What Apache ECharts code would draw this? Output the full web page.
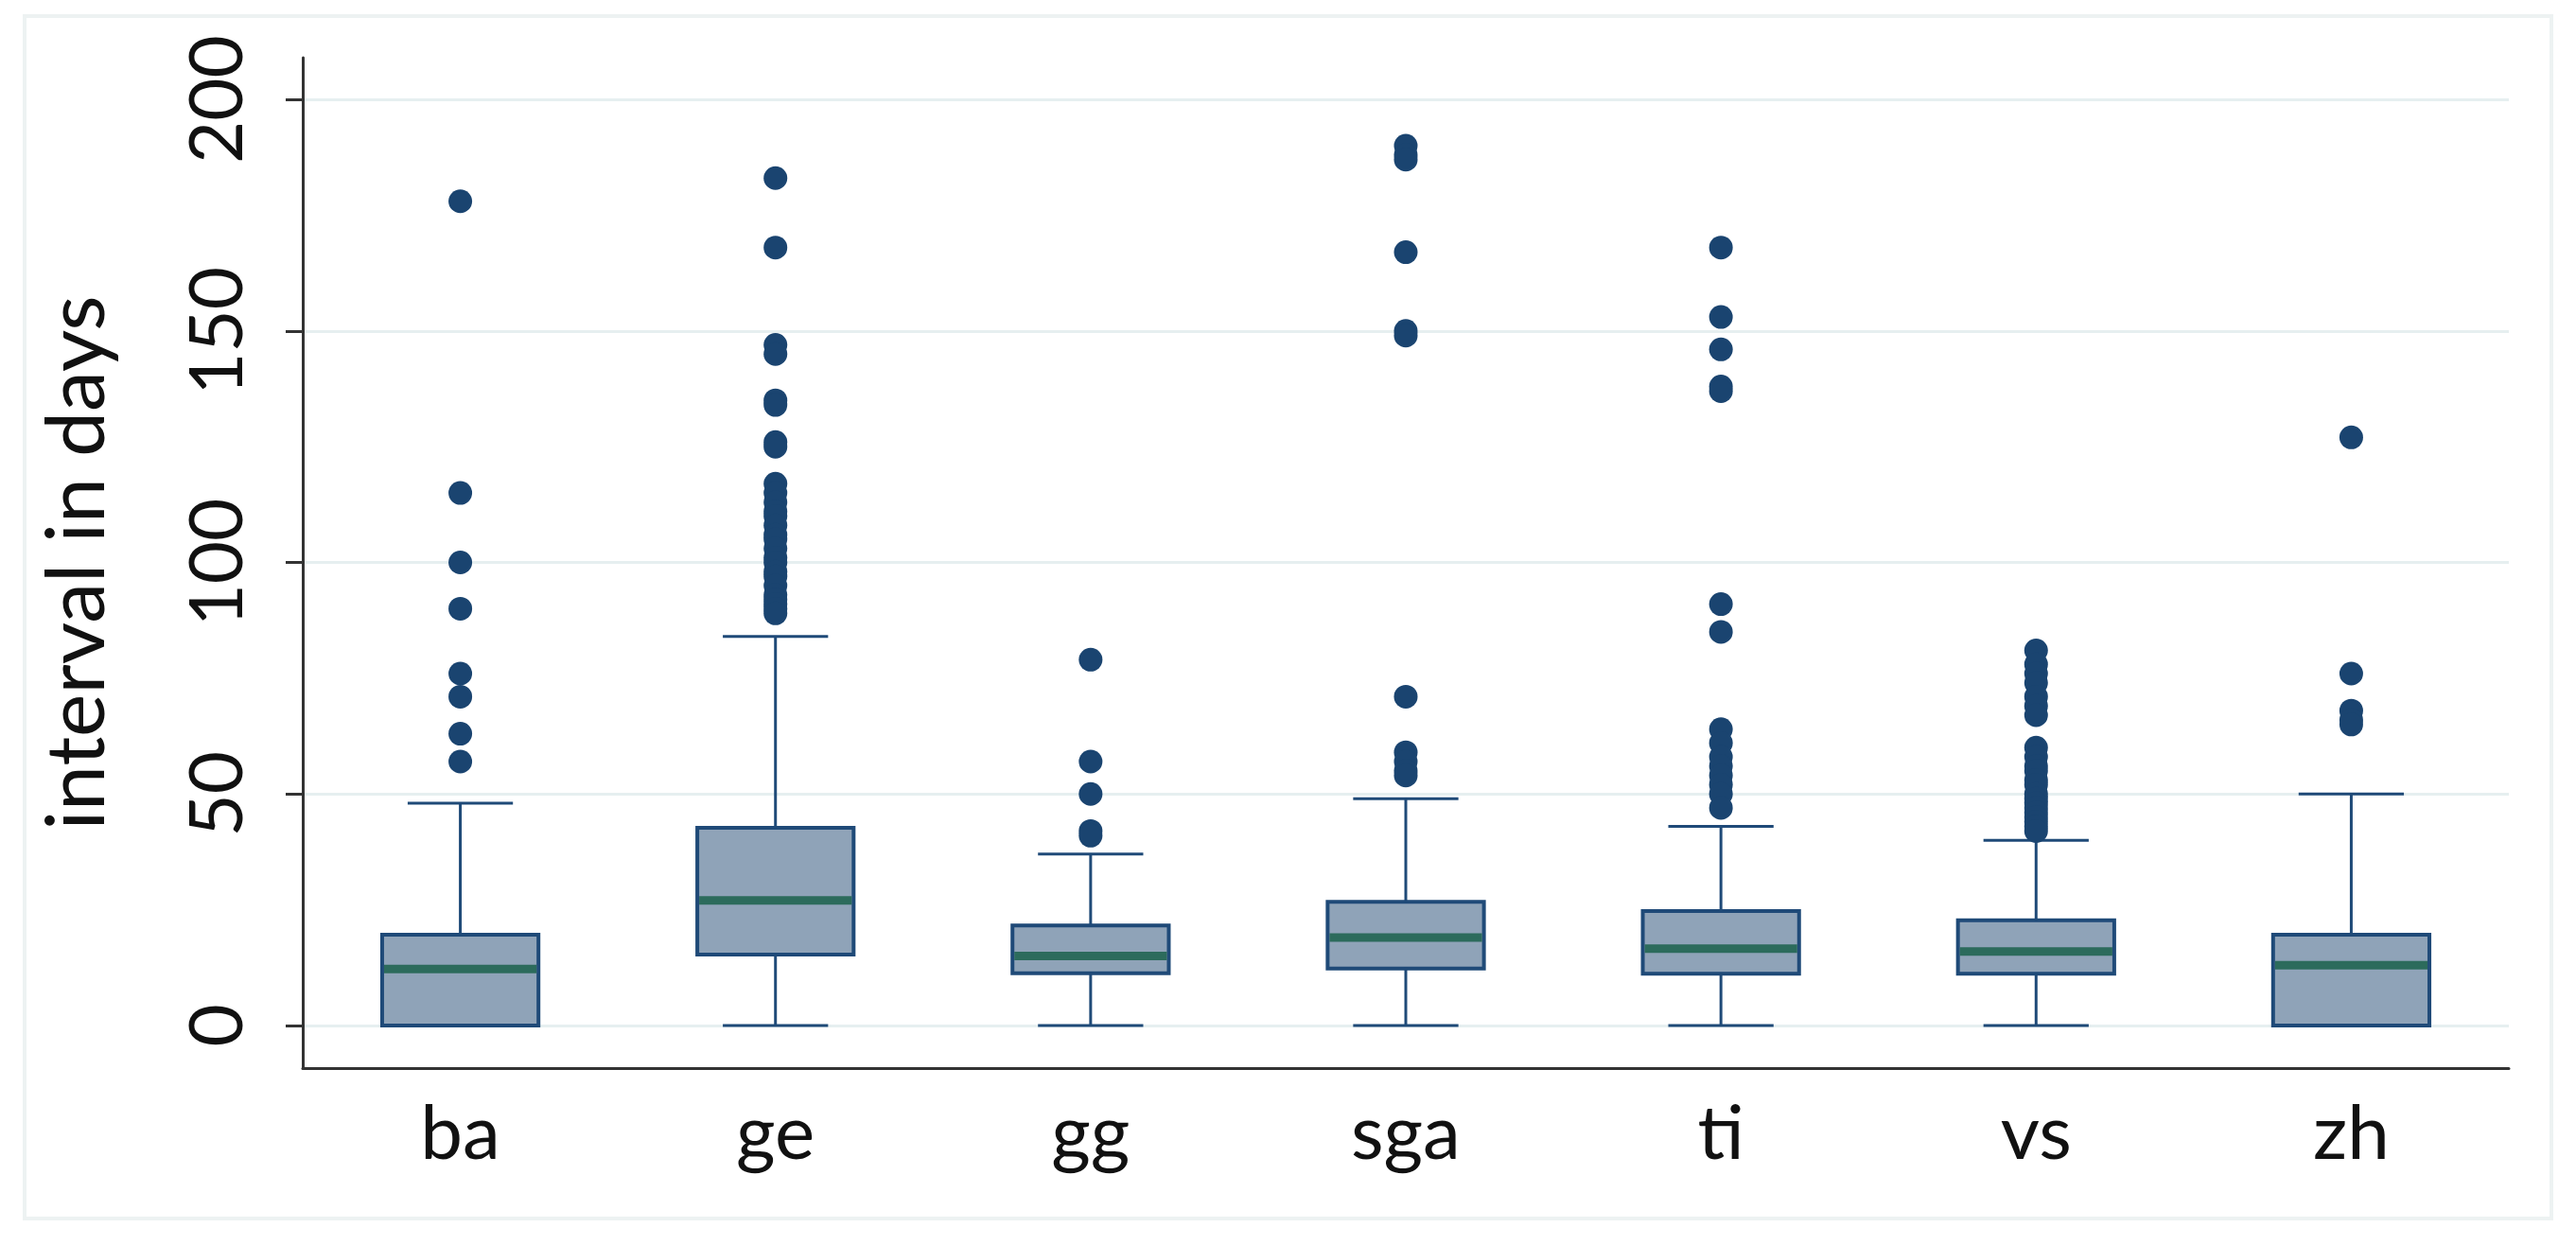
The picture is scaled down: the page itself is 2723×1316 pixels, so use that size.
<!DOCTYPE html>
<html>
<head>
<meta charset="utf-8">
<title>interval in days</title>
<script src="https://cdn.jsdelivr.net/npm/echarts@6/dist/echarts.min.js"></script>
<style>
  html, body { margin: 0; padding: 0; background: #fff; }
  #chart { width: 2723px; height: 1316px; }
</style>
</head>
<body>
<div id="chart"></div>
<script>
// box plot statistics
var categories = ['ba', 'ge', 'gg', 'sga', 'ti', 'vs', 'zh'];
var lowWhisker  = [0, 0, 0, 0, 0, 0, 0];
var q1          = [0, 15.3, 11.3, 12.3, 11.2, 11.2, 0];
var median      = [12.2, 27, 15, 19, 16.6, 16, 13];
var q3          = [19.6, 42.7, 21.6, 26.7, 24.7, 22.7, 19.6];
var highWhisker = [48, 84, 37, 49, 43, 40, 50];

// outside values per group
var outBa  = [178, 115, 100, 90, 76, 71, 63, 57];
var outGe  = [183, 168, 147, 145, 135, 134, 126, 125, 117, 115, 113, 111, 110, 108, 106, 105,
              103, 101, 100, 98, 97, 95, 93, 92, 91, 90, 89];
var outGg  = [79, 57, 50, 42, 41];
var outSga = [190, 188, 187, 167, 150, 149, 71, 59, 57, 55, 54];
var outTi  = [168, 153, 146, 138, 137, 91, 85, 64, 61, 58, 56, 54, 52, 50, 47];
var outVs  = [81, 78, 76, 74, 71, 69, 67, 60, 58, 56, 55, 53, 52, 50, 49, 48, 47, 46, 45, 44, 43, 42];
var outZh  = [127, 76, 68, 66, 65];

var yTicks = [0, 50, 100, 150, 200];

var NAVY = '#1f4a78';
var FILL = '#8fa3b8';
var GREEN = '#2c6b5c';

var chart = echarts.init(document.getElementById('chart'));

var boxData = categories.map(function (c, i) {
    return [i, lowWhisker[i], q1[i], median[i], q3[i], highWhisker[i]];
});

var outliers = [outBa, outGe, outGg, outSga, outTi, outVs, outZh];
var outData = [];
outliers.forEach(function (list, i) {
    list.forEach(function (v) { outData.push([i, v]); });
});

function renderBox(params, api) {
    var i = api.value(0);
    var pLow = api.coord([i, api.value(1)]);
    var pQ1 = api.coord([i, api.value(2)]);
    var pMed = api.coord([i, api.value(3)]);
    var pQ3 = api.coord([i, api.value(4)]);
    var pHigh = api.coord([i, api.value(5)]);
    var band = api.size([1, 0])[0];
    var half = band * 0.248;   // box half width
    var cap = band * 0.167;    // whisker cap half width
    var x = pQ1[0];
    var line = { stroke: NAVY, lineWidth: 3 };
    return {
        type: 'group',
        children: [
            { type: 'line', shape: { x1: x, y1: pQ3[1], x2: x, y2: pHigh[1] }, style: line },
            { type: 'line', shape: { x1: x, y1: pQ1[1], x2: x, y2: pLow[1] }, style: line },
            { type: 'line', shape: { x1: x - cap, y1: pHigh[1], x2: x + cap, y2: pHigh[1] }, style: line },
            { type: 'line', shape: { x1: x - cap, y1: pLow[1], x2: x + cap, y2: pLow[1] }, style: line },
            { type: 'rect', shape: { x: x - half, y: pQ3[1], width: half * 2, height: pQ1[1] - pQ3[1] },
              style: { fill: FILL, stroke: NAVY, lineWidth: 4 } },
            { type: 'line', shape: { x1: x - half + 2, y1: pMed[1], x2: x + half - 2, y2: pMed[1] },
              style: { stroke: GREEN, lineWidth: 9 } }
        ]
    };
}

var option = {
    backgroundColor: '#ffffff',
    animation: false,
    textStyle: { fontFamily: 'Lato' },
    graphic: [{
        type: 'rect',
        shape: { x: 26, y: 17, width: 2671, height: 1271 },
        style: { fill: 'none', stroke: '#edf2f2', lineWidth: 4 },
        z: -1
    }],
    grid: {
        left: 320,
        right: 71,
        top: 61,
        bottom: 187
    },
    xAxis: {
        type: 'category',
        data: categories,
        boundaryGap: true,
        axisLine: { onZero: false, lineStyle: { color: '#333', width: 3 } },
        axisTick: { show: false },
        splitLine: { show: false },
        axisLabel: {
            color: '#111',
            fontSize: 80,
            margin: 30
        }
    },
    yAxis: {
        type: 'value',
        min: -9.2,
        max: 209,
        name: 'interval in days',
        nameLocation: 'middle',
        nameGap: 195,
        nameTextStyle: { color: '#111', fontSize: 86 },
        axisLine: { show: true, lineStyle: { color: '#333', width: 3 } },
        axisTick: {
            show: true,
            length: 18,
            customValues: yTicks,
            lineStyle: { color: '#333', width: 3 }
        },
        axisLabel: {
            color: '#111',
            fontSize: 78,
            rotate: 90,
            margin: 50,
            customValues: yTicks
        },
        splitLine: {
            show: true,
            lineStyle: { color: '#e6eff0', width: 3 }
        }
    },
    series: [
        {
            name: 'box',
            type: 'custom',
            renderItem: renderBox,
            encode: { x: 0, y: [1, 2, 3, 4, 5] },
            data: boxData,
            z: 2
        },
        {
            name: 'outside values',
            type: 'scatter',
            data: outData,
            symbol: 'circle',
            symbolSize: 25,
            itemStyle: { color: '#1a4470', opacity: 1 },
            z: 3
        }
    ]
};
chart.setOption(option);
</script>
</body>
</html>
